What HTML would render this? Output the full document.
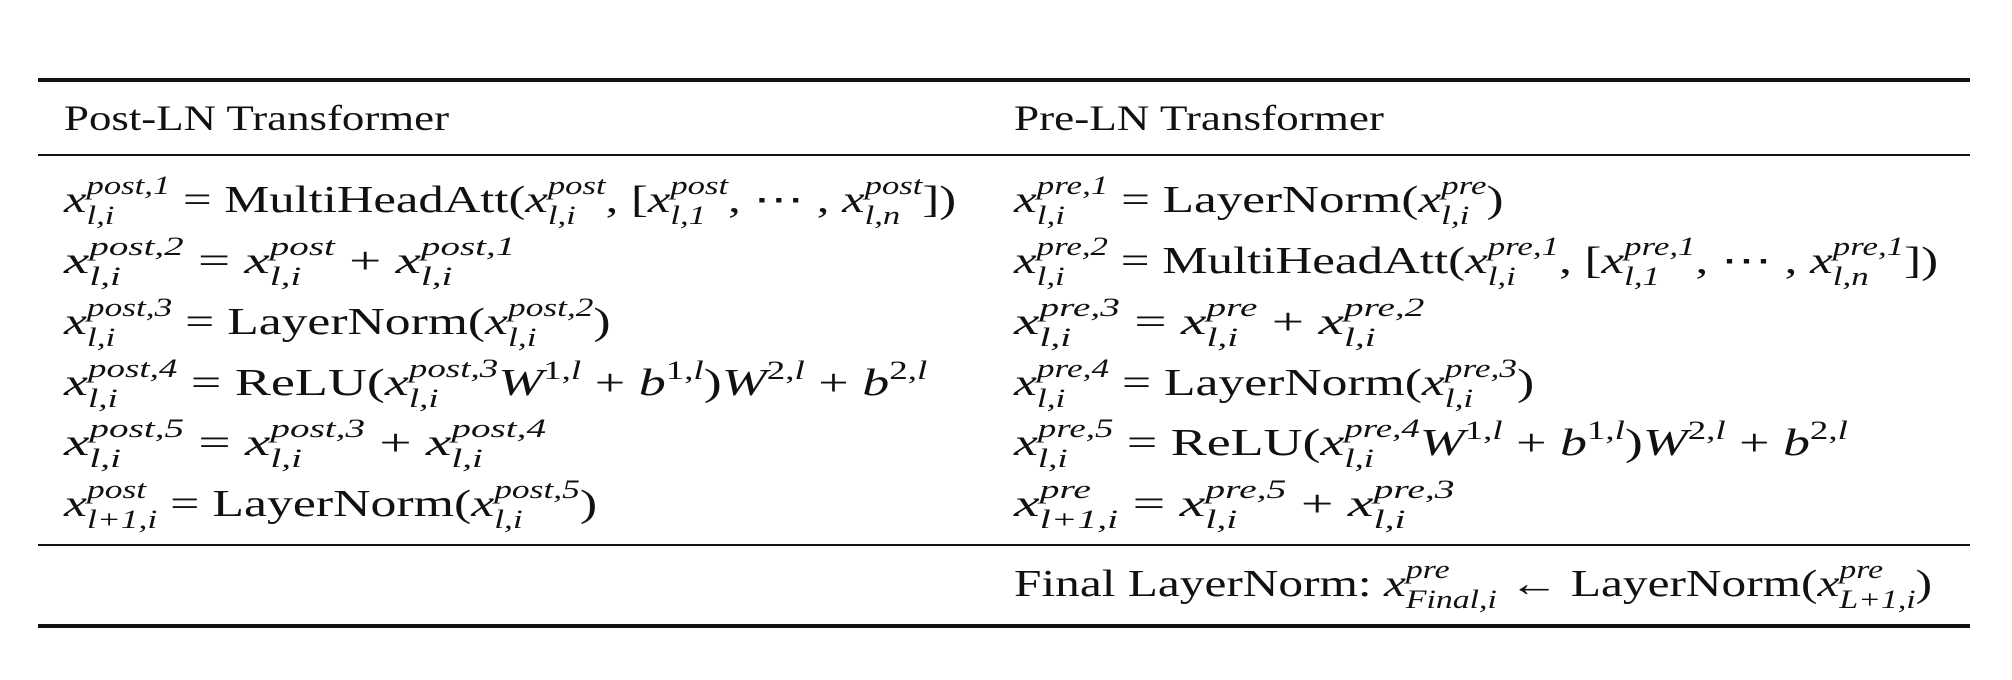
<!DOCTYPE html>
<html><head><meta charset="utf-8">
<style>
html,body{margin:0;padding:0;background:#fff;}
body{width:2012px;height:680px;position:relative;overflow:hidden;font-family:"Liberation Serif",serif;color:#111;}
.rule{position:absolute;left:38px;width:1932px;background:#111;}
.t{position:absolute;font-size:36px;line-height:1;white-space:nowrap;transform-origin:0 0;}
.eq{position:absolute;font-size:38px;line-height:1;white-space:nowrap;transform-origin:0 0;}
.v{font-style:italic;}
.ss{display:inline-block;vertical-align:-12px;font-size:26px;line-height:30px;font-style:italic;text-align:left;}
.ss span{display:block;}
.m{display:inline-block;width:0;height:0;}
sup{font-size:26px;vertical-align:16px;line-height:0;}
</style></head>
<body>
<div class="rule" style="top:78px;height:4px"></div>
<div class="t" data-b="130" data-w="385" style="left:64px"><span class="m"></span>Post-LN Transformer</div>
<div class="t" data-b="130" data-w="370" style="left:1014px"><span class="m"></span>Pre-LN Transformer</div>
<div class="rule" style="top:154px;height:2px"></div>

<div class="eq" data-b="212" data-w="892" style="left:64px"><span class="m"></span><span class="v">x</span><span class="ss"><span>post,1</span><span>l,i</span></span> = MultiHeadAtt(<span class="v">x</span><span class="ss"><span>post</span><span>l,i</span></span>, [<span class="v">x</span><span class="ss"><span>post</span><span>l,1</span></span>, ⋯ , <span class="v">x</span><span class="ss"><span>post</span><span>l,n</span></span>])</div>
<div class="eq" data-b="273" data-w="452" style="left:64px"><span class="m"></span><span class="v">x</span><span class="ss"><span>post,2</span><span>l,i</span></span> = <span class="v">x</span><span class="ss"><span>post</span><span>l,i</span></span> + <span class="v">x</span><span class="ss"><span>post,1</span><span>l,i</span></span></div>
<div class="eq" data-b="334" data-w="546" style="left:64px"><span class="m"></span><span class="v">x</span><span class="ss"><span>post,3</span><span>l,i</span></span> = LayerNorm(<span class="v">x</span><span class="ss"><span>post,2</span><span>l,i</span></span>)</div>
<div class="eq" data-b="395" data-w="863" style="left:64px"><span class="m"></span><span class="v">x</span><span class="ss"><span>post,4</span><span>l,i</span></span> = ReLU(<span class="v">x</span><span class="ss"><span>post,3</span><span>l,i</span></span><span class="v">W</span><sup>1,<i>l</i></sup> + <span class="v">b</span><sup>1,<i>l</i></sup>)<span class="v">W</span><sup>2,<i>l</i></sup> + <span class="v">b</span><sup>2,<i>l</i></sup></div>
<div class="eq" data-b="455" data-w="482" style="left:64px"><span class="m"></span><span class="v">x</span><span class="ss"><span>post,5</span><span>l,i</span></span> = <span class="v">x</span><span class="ss"><span>post,3</span><span>l,i</span></span> + <span class="v">x</span><span class="ss"><span>post,4</span><span>l,i</span></span></div>
<div class="eq" data-b="516" data-w="533" style="left:64px"><span class="m"></span><span class="v">x</span><span class="ss"><span>post</span><span>l+1,i</span></span> = LayerNorm(<span class="v">x</span><span class="ss"><span>post,5</span><span>l,i</span></span>)</div>

<div class="eq" data-b="212" data-w="490" style="left:1014px"><span class="m"></span><span class="v">x</span><span class="ss"><span>pre,1</span><span>l,i</span></span> = LayerNorm(<span class="v">x</span><span class="ss"><span>pre</span><span>l,i</span></span>)</div>
<div class="eq" data-b="273" data-w="924" style="left:1014px"><span class="m"></span><span class="v">x</span><span class="ss"><span>pre,2</span><span>l,i</span></span> = MultiHeadAtt(<span class="v">x</span><span class="ss"><span>pre,1</span><span>l,i</span></span>, [<span class="v">x</span><span class="ss"><span>pre,1</span><span>l,1</span></span>, ⋯ , <span class="v">x</span><span class="ss"><span>pre,1</span><span>l,n</span></span>])</div>
<div class="eq" data-b="334" data-w="411" style="left:1014px"><span class="m"></span><span class="v">x</span><span class="ss"><span>pre,3</span><span>l,i</span></span> = <span class="v">x</span><span class="ss"><span>pre</span><span>l,i</span></span> + <span class="v">x</span><span class="ss"><span>pre,2</span><span>l,i</span></span></div>
<div class="eq" data-b="395" data-w="520" style="left:1014px"><span class="m"></span><span class="v">x</span><span class="ss"><span>pre,4</span><span>l,i</span></span> = LayerNorm(<span class="v">x</span><span class="ss"><span>pre,3</span><span>l,i</span></span>)</div>
<div class="eq" data-b="455" data-w="834" style="left:1014px"><span class="m"></span><span class="v">x</span><span class="ss"><span>pre,5</span><span>l,i</span></span> = ReLU(<span class="v">x</span><span class="ss"><span>pre,4</span><span>l,i</span></span><span class="v">W</span><sup>1,<i>l</i></sup> + <span class="v">b</span><sup>1,<i>l</i></sup>)<span class="v">W</span><sup>2,<i>l</i></sup> + <span class="v">b</span><sup>2,<i>l</i></sup></div>
<div class="eq" data-b="516" data-w="440" style="left:1014px"><span class="m"></span><span class="v">x</span><span class="ss"><span>pre</span><span>l+1,i</span></span> = <span class="v">x</span><span class="ss"><span>pre,5</span><span>l,i</span></span> + <span class="v">x</span><span class="ss"><span>pre,3</span><span>l,i</span></span></div>

<div class="rule" style="top:544px;height:2px"></div>
<div class="eq" data-b="596" data-w="918" style="left:1014px"><span class="m"></span>Final LayerNorm: <span class="v">x</span><span class="ss"><span>pre</span><span>Final,i</span></span> ← LayerNorm(<span class="v">x</span><span class="ss"><span>pre</span><span>L+1,i</span></span>)</div>
<div class="rule" style="top:624px;height:4px"></div>
<script>
document.querySelectorAll('[data-b]').forEach(function(el){
  el.style.top='0px';
  var m=el.querySelector('.m');
  var base=m.offsetTop;
  el.style.top=(parseFloat(el.getAttribute('data-b'))-base)+'px';
  var w=el.offsetWidth;
  var tw=parseFloat(el.getAttribute('data-w'));
  if(w>0) el.style.transform='scaleX('+(tw/w)+')';
});
</script>
</body></html>
